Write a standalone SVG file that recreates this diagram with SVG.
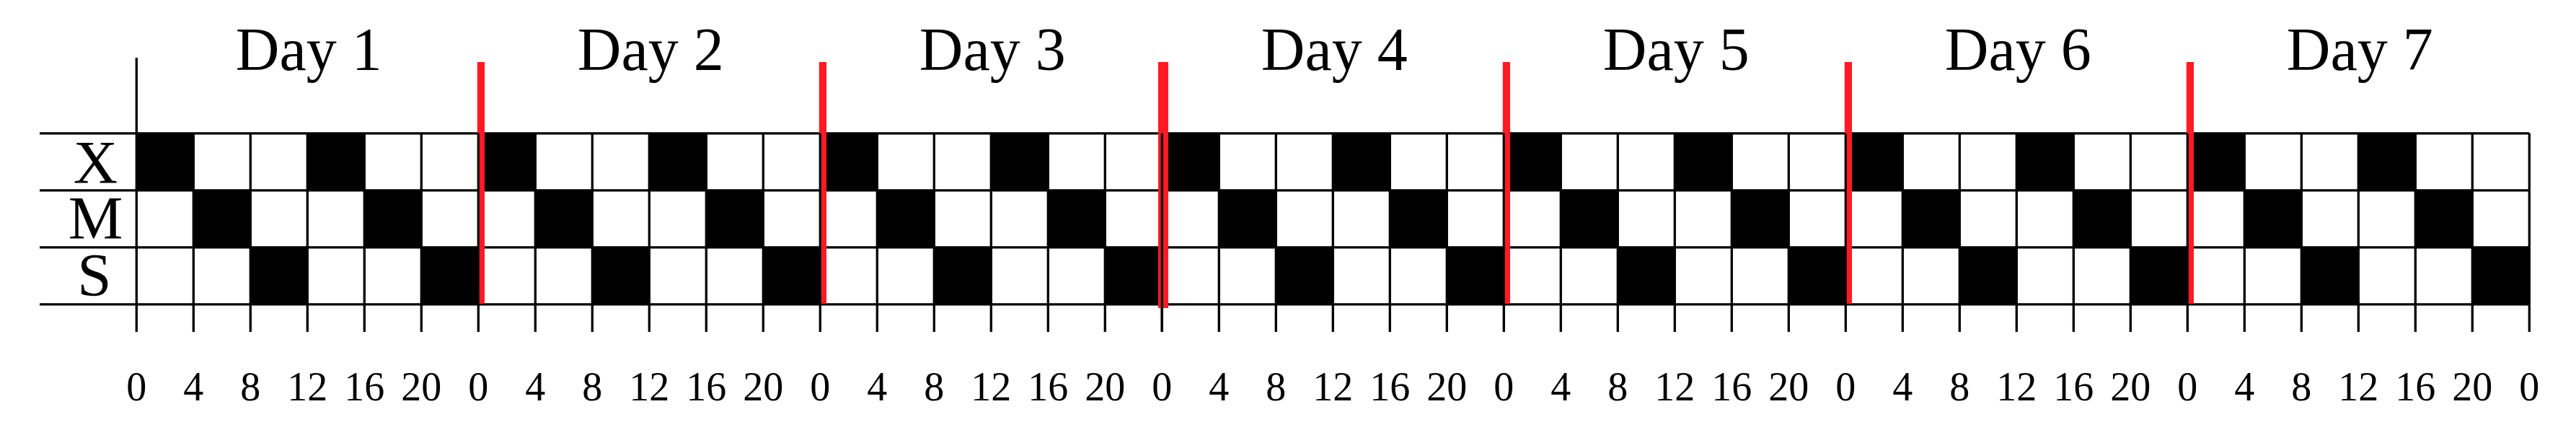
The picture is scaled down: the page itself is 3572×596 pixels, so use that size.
<svg xmlns="http://www.w3.org/2000/svg" width="3572" height="596" viewBox="0 0 3572 596">
<style>
.t{font-family:"Liberation Serif","Times New Roman",serif;fill:#000;text-anchor:middle}
.day{font-size:84px}
.row{font-size:85px}
.tick{font-size:56px}
.on{fill:#000}
.g{stroke:#000;stroke-width:3.3;fill:none}
.red{fill:#ff1a24}
</style>
<rect width="3572" height="596" fill="#fff"/>
<g id="cells">
<rect class="on" x="189.3" y="184.8" width="79" height="79"/><rect class="on" x="426.3" y="184.8" width="79" height="79"/>
<rect class="on" x="663.3" y="184.8" width="79" height="79"/><rect class="on" x="900.3" y="184.8" width="79" height="79"/>
<rect class="on" x="1137.3" y="184.8" width="79" height="79"/><rect class="on" x="1374.3" y="184.8" width="79" height="79"/>
<rect class="on" x="1611.3" y="184.8" width="79" height="79"/><rect class="on" x="1848.3" y="184.8" width="79" height="79"/>
<rect class="on" x="2085.3" y="184.8" width="79" height="79"/><rect class="on" x="2322.3" y="184.8" width="79" height="79"/>
<rect class="on" x="2559.3" y="184.8" width="79" height="79"/><rect class="on" x="2796.3" y="184.8" width="79" height="79"/>
<rect class="on" x="3033.3" y="184.8" width="79" height="79"/><rect class="on" x="3270.3" y="184.8" width="79" height="79"/>
<rect class="on" x="268.3" y="263.8" width="79" height="79"/><rect class="on" x="505.3" y="263.8" width="79" height="79"/>
<rect class="on" x="742.3" y="263.8" width="79" height="79"/><rect class="on" x="979.3" y="263.8" width="79" height="79"/>
<rect class="on" x="1216.3" y="263.8" width="79" height="79"/><rect class="on" x="1453.3" y="263.8" width="79" height="79"/>
<rect class="on" x="1690.3" y="263.8" width="79" height="79"/><rect class="on" x="1927.3" y="263.8" width="79" height="79"/>
<rect class="on" x="2164.3" y="263.8" width="79" height="79"/><rect class="on" x="2401.3" y="263.8" width="79" height="79"/>
<rect class="on" x="2638.3" y="263.8" width="79" height="79"/><rect class="on" x="2875.3" y="263.8" width="79" height="79"/>
<rect class="on" x="3112.3" y="263.8" width="79" height="79"/><rect class="on" x="3349.3" y="263.8" width="79" height="79"/>
<rect class="on" x="347.3" y="342.8" width="79" height="79"/><rect class="on" x="584.3" y="342.8" width="79" height="79"/>
<rect class="on" x="821.3" y="342.8" width="79" height="79"/><rect class="on" x="1058.3" y="342.8" width="79" height="79"/>
<rect class="on" x="1295.3" y="342.8" width="79" height="79"/><rect class="on" x="1532.3" y="342.8" width="79" height="79"/>
<rect class="on" x="1769.3" y="342.8" width="79" height="79"/><rect class="on" x="2006.3" y="342.8" width="79" height="79"/>
<rect class="on" x="2243.3" y="342.8" width="79" height="79"/><rect class="on" x="2480.3" y="342.8" width="79" height="79"/>
<rect class="on" x="2717.3" y="342.8" width="79" height="79"/><rect class="on" x="2954.3" y="342.8" width="79" height="79"/>
<rect class="on" x="3191.3" y="342.8" width="79" height="79"/><rect class="on" x="3428.3" y="342.8" width="79" height="79"/>
</g>
<g id="grid" class="g">
<path d="M55 184.8H3507.3M55 263.8H3507.3M55 342.8H3507.3M55 421.8H3507.3"/>
<path d="M189.3 80V460M268.3 184.8V460M347.3 184.8V460M426.3 184.8V460M505.3 184.8V460M584.3 184.8V460M663.3 184.8V460M742.3 184.8V460M821.3 184.8V460M900.3 184.8V460M979.3 184.8V460M1058.3 184.8V460M1137.3 184.8V460M1216.3 184.8V460M1295.3 184.8V460M1374.3 184.8V460M1453.3 184.8V460M1532.3 184.8V460M1611.3 184.8V460M1690.3 184.8V460M1769.3 184.8V460M1848.3 184.8V460M1927.3 184.8V460M2006.3 184.8V460M2085.3 184.8V460M2164.3 184.8V460M2243.3 184.8V460M2322.3 184.8V460M2401.3 184.8V460M2480.3 184.8V460M2559.3 184.8V460M2638.3 184.8V460M2717.3 184.8V460M2796.3 184.8V460M2875.3 184.8V460M2954.3 184.8V460M3033.3 184.8V460M3112.3 184.8V460M3191.3 184.8V460M3270.3 184.8V460M3349.3 184.8V460M3428.3 184.8V460M3507.3 184.8V460"/>
</g>
<g id="day-dividers">
<path class="red" d="M661.8 86H672V421H664.8V184.8H661.8Z"/>
<path class="red" d="M1135.8 86H1146V421H1138.8V184.8H1135.8Z"/>
<rect class="red" x="1606" y="86" width="14" height="341"/>
<path class="g" d="M1611.3 184.8V460"/>
<path class="red" d="M2083.8 86H2094V421H2086.8V184.8H2083.8Z"/>
<path class="red" d="M2557.8 86H2568V421H2560.8V184.8H2557.8Z"/>
<path class="red" d="M3031.8 86H3042V421H3034.8V184.8H3031.8Z"/>
</g>
<g id="day-labels" class="t day">
<text x="428.3" y="97">Day 1</text>
<text x="902.3" y="97">Day 2</text>
<text x="1376.3" y="97">Day 3</text>
<text x="1850.3" y="97">Day 4</text>
<text x="2324.3" y="97">Day 5</text>
<text x="2798.3" y="97">Day 6</text>
<text x="3272.3" y="97">Day 7</text>
</g>
<g id="row-labels" class="t row">
<text x="132.5" y="254">X</text>
<text x="132.5" y="331">M</text>
<text x="131" y="410">S</text>
</g>
<g id="hour-labels" class="t tick">
<text x="189.3" y="554.5">0</text><text x="268.3" y="554.5">4</text><text x="347.3" y="554.5">8</text><text x="426.3" y="554.5">12</text><text x="505.3" y="554.5">16</text><text x="584.3" y="554.5">20</text>
<text x="663.3" y="554.5">0</text><text x="742.3" y="554.5">4</text><text x="821.3" y="554.5">8</text><text x="900.3" y="554.5">12</text><text x="979.3" y="554.5">16</text><text x="1058.3" y="554.5">20</text>
<text x="1137.3" y="554.5">0</text><text x="1216.3" y="554.5">4</text><text x="1295.3" y="554.5">8</text><text x="1374.3" y="554.5">12</text><text x="1453.3" y="554.5">16</text><text x="1532.3" y="554.5">20</text>
<text x="1611.3" y="554.5">0</text><text x="1690.3" y="554.5">4</text><text x="1769.3" y="554.5">8</text><text x="1848.3" y="554.5">12</text><text x="1927.3" y="554.5">16</text><text x="2006.3" y="554.5">20</text>
<text x="2085.3" y="554.5">0</text><text x="2164.3" y="554.5">4</text><text x="2243.3" y="554.5">8</text><text x="2322.3" y="554.5">12</text><text x="2401.3" y="554.5">16</text><text x="2480.3" y="554.5">20</text>
<text x="2559.3" y="554.5">0</text><text x="2638.3" y="554.5">4</text><text x="2717.3" y="554.5">8</text><text x="2796.3" y="554.5">12</text><text x="2875.3" y="554.5">16</text><text x="2954.3" y="554.5">20</text>
<text x="3033.3" y="554.5">0</text><text x="3112.3" y="554.5">4</text><text x="3191.3" y="554.5">8</text><text x="3270.3" y="554.5">12</text><text x="3349.3" y="554.5">16</text><text x="3428.3" y="554.5">20</text>
<text x="3507.3" y="554.5">0</text>
</g>
</svg>
